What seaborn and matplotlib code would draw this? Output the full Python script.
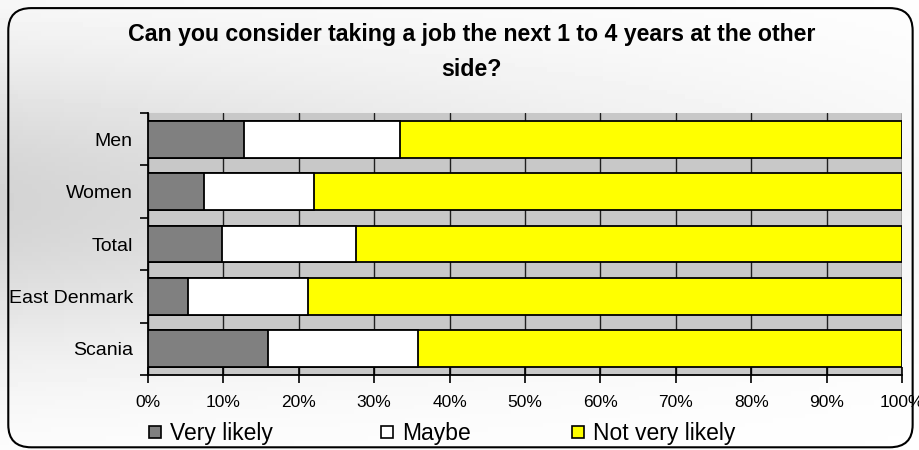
import numpy as np
import pandas as pd
import matplotlib
matplotlib.use("Agg")
import matplotlib.pyplot as plt
from matplotlib.patches import FancyBboxPatch
from matplotlib.lines import Line2D
import seaborn as sns

# --- data (percent) ---
categories = ["Men", "Women", "Total", "East Denmark", "Scania"]
very_likely = [12.7, 7.4, 9.8, 5.3, 15.9]
maybe = [20.7, 14.6, 17.8, 15.9, 19.9]
not_very_likely = [66.6, 78.0, 72.4, 78.8, 64.2]
x_ticks = list(range(0, 101, 10))

series_names = ["Very likely", "Maybe", "Not very likely"]
series_colors = ["#808080", "#FFFFFF", "#FFFF00"]

sns.set_theme(style="white")
plt.rcParams["font.family"] = ["Liberation Sans", "DejaVu Sans"]
plt.rcParams["text.color"] = "black"
plt.rcParams["xtick.labelcolor"] = "black"
plt.rcParams["ytick.labelcolor"] = "black"

df = pd.DataFrame({
    "category": categories,
    "Very likely": very_likely,
    "Maybe": maybe,
    "Not very likely": not_very_likely,
})
cum = df[series_names].cumsum(axis=1)

fig = plt.figure(figsize=(9.2, 4.5), dpi=100)

# background gradient for the whole chart area
bg = fig.add_axes([0, 0, 1, 1], zorder=-10)
gx, gy = np.meshgrid(np.linspace(0, 1, 200), np.linspace(0, 1, 100))
shade = 1 - 0.17 * np.exp(-((gy - 0.45) / 0.35) ** 2) * (1 - 0.8 * gx)
bg.imshow(shade, cmap="gray", vmin=0, vmax=1, aspect="auto",
          extent=[0, 1, 0, 1], origin="upper")
bg.set_xlim(0, 1)
bg.set_ylim(0, 1)
bg.axis("off")
frame = FancyBboxPatch((0.009, 0.006), 0.983, 0.976,
                       boxstyle="round,pad=0,rounding_size=0.025",
                       transform=bg.transAxes, fill=False,
                       edgecolor="black", linewidth=1.5, mutation_aspect=2.0)
bg.add_patch(frame)

ax = fig.add_axes([0.1609, 0.1667, 0.8195, 0.582])
ax.set_facecolor("#C8C8C8")

# stacked bars: draw cumulative totals from the back to the front
for name, color in reversed(list(zip(series_names, series_colors))):
    sns.barplot(x=cum[name], y=df["category"], orient="h", color=color,
                edgecolor="black", linewidth=1.3, width=0.7,
                saturation=1, ax=ax, zorder=3)

ax.set_xlim(0, 100)
ax.set_ylim(4.5, -0.5)
ax.set_xticks(x_ticks)
ax.set_xticklabels([f"{t}%" for t in x_ticks])
ax.grid(axis="x", color="#202020", linewidth=1.0, zorder=0)
ax.set_axisbelow(True)
ax.set_xlabel("")
ax.set_ylabel("")

ax.set_yticks(range(len(categories)))
ax.set_yticklabels(categories)
ax.set_yticks(np.arange(-0.5, len(categories)), minor=True)
ax.tick_params(axis="y", which="major", length=0, pad=11, labelsize=14)
ax.tick_params(axis="y", which="minor", length=6, width=1.2, color="black",
               direction="out", left=True)
ax.tick_params(axis="x", length=11, width=1.2, color="black", direction="inout",
               pad=9, bottom=True, labelsize=12.5)
for side in ["top", "right"]:
    ax.spines[side].set_visible(False)
for side in ["left", "bottom"]:
    ax.spines[side].set_color("black")
    ax.spines[side].set_linewidth(1.3)

fig.text(0.513, 0.884, "Can you consider taking a job the next 1 to 4 years at the other\nside?",
         ha="center", va="center", fontsize=16.7, fontweight="bold",
         linespacing=1.7)

# legend: one entry per series at its own position
legend_x = [148, 380, 571]
for name, color, lx in zip(series_names, series_colors, legend_x):
    h = Line2D([0], [0], marker="s", linestyle="", markersize=8,
               markerfacecolor=color, markeredgecolor="black", markeredgewidth=1.2)
    fig.legend([h], [name], loc="center left", bbox_to_anchor=(lx / 920 - 0.012, 0.037),
               frameon=False, fontsize=16.5, handletextpad=0.25, handlelength=0.8,
               borderaxespad=0)

fig.savefig("out.png", dpi=100)
